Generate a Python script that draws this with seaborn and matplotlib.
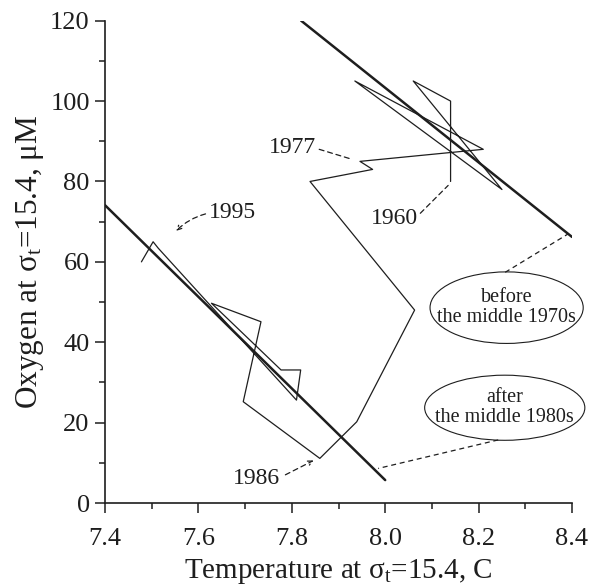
import matplotlib
matplotlib.use("Agg")
import matplotlib.pyplot as plt
import numpy as np
import pandas as pd
import seaborn as sns
from matplotlib.patches import Ellipse

# ---- data ----
temp = [8.14, 8.14, 8.06, 8.25, 7.935, 8.21, 7.946, 7.973, 7.839, 8.063,
        7.939, 7.86, 7.696, 7.734, 7.628, 7.777, 7.819, 7.81, 7.514, 7.503, 7.478]
oxygen = [80, 100, 105, 78, 105, 88, 85, 83, 80, 48,
          20.2, 11.1, 25.2, 45.1, 49.7, 33.1, 33.1, 25.6, 63.4, 65, 60]
fit_before_t = [7.82, 8.40]
fit_before_o = [120, 66.2]
fit_after_t = [7.40, 8.00]
fit_after_o = [74.1, 5.7]
xticks = [7.4, 7.6, 7.8, 8.0, 8.2, 8.4]
xticklabels = ["7.4", "7.6", "7.8", "8.0", "8.2", "8.4"]
yticks = [0, 20, 40, 60, 80, 100, 120]
year_labels = ["1977", "1960", "1986", "1995"]
ellipse_labels = ["before\nthe middle 1970s", "after\nthe middle 1980s"]

sns.set_style("ticks")
plt.rcParams["font.family"] = ["Liberation Serif", "DejaVu Serif"]
plt.rcParams["mathtext.fontset"] = "custom"
plt.rcParams["mathtext.rm"] = "Liberation Serif"
plt.rcParams["mathtext.it"] = "Liberation Serif:italic"

ink = "#1e1e1e"
fig = plt.figure(figsize=(5.91, 5.88), dpi=100)
ax = fig.add_axes([105 / 591, 85 / 588, 467 / 591, 482.3 / 588])

traj = pd.DataFrame({"t": temp, "o": oxygen})
sns.lineplot(data=traj, x="t", y="o", sort=False, estimator=None, ax=ax,
             color=ink, lw=0.9)
fb = pd.DataFrame({"t": fit_before_t, "o": fit_before_o})
fa = pd.DataFrame({"t": fit_after_t, "o": fit_after_o})
sns.lineplot(data=fb, x="t", y="o", sort=False, estimator=None, ax=ax, color=ink, lw=1.8)
sns.lineplot(data=fa, x="t", y="o", sort=False, estimator=None, ax=ax, color=ink, lw=1.8)

ax.set_xlim(7.4, 8.4)
ax.set_ylim(0, 120)
ax.set_xticks(xticks)
ax.set_xticklabels(xticklabels)
ax.set_xticks(np.arange(7.5, 8.4, 0.2), minor=True)
ax.set_yticks(yticks)
ax.set_yticks(np.arange(10, 120, 20), minor=True)
ax.tick_params(which="major", direction="out", length=7, width=1.1, colors=ink,
               labelsize=19)
ax.tick_params(axis="x", which="major", pad=11)
ax.tick_params(axis="y", which="major", pad=4)
ax.tick_params(which="minor", direction="out", length=4, width=1.1, colors=ink)
sns.despine(ax=ax)
for s in ["left", "bottom"]:
    ax.spines[s].set_linewidth(1.2)
    ax.spines[s].set_color(ink)

ax.set_xlabel(r"Temperature at $\mathregular{\sigma_t}$=15.4, C", fontsize=21, color=ink, labelpad=5)
ax.set_ylabel(r"Oxygen at $\mathregular{\sigma_t}$=15.4, $\mathregular{\mu}$M", fontsize=22.5, color=ink, labelpad=3)

# year annotations
dash = dict(arrowstyle="-", linestyle=(0, (4, 3)), color=ink, lw=0.9)
dash_arrow = dict(arrowstyle="->", linestyle=(0, (4, 3)), color=ink, lw=0.9, mutation_scale=8)
ax.text(7.801, 88.5, year_labels[0], fontsize=17, ha="center", va="center", color=ink)
ax.annotate("", xy=(7.935, 85.3), xytext=(7.853, 88.2), arrowprops=dash)
ax.text(8.019, 70.9, year_labels[1], fontsize=17, ha="center", va="center", color=ink)
ax.annotate("", xy=(8.139, 79.5), xytext=(8.071, 71.6), arrowprops=dash)
ax.text(7.725, 6.2, year_labels[2], fontsize=17, ha="center", va="center", color=ink)
ax.annotate("", xy=(7.852, 10.9), xytext=(7.781, 6.7), arrowprops=dash_arrow)
ax.text(7.673, 72.4, year_labels[3], fontsize=17, ha="center", va="center", color=ink)
ax.annotate("", xy=(7.548, 67.2), xytext=(7.621, 72.1),
            arrowprops=dict(dash_arrow, connectionstyle="arc3,rad=0.15"))

# ellipses with labels
e1 = Ellipse((8.260, 48.6), 0.328, 17.8, fill=False, ec=ink, lw=0.8, clip_on=False)
e2 = Ellipse((8.256, 23.7), 0.343, 16.2, fill=False, ec=ink, lw=0.8, clip_on=False)
ax.add_patch(e1)
ax.add_patch(e2)
ax.text(8.260, 48.6, ellipse_labels[0], fontsize=14.5, ha="center", va="center",
        color=ink, linespacing=1.1, clip_on=False)
ax.text(8.256, 23.7, ellipse_labels[1], fontsize=14.5, ha="center", va="center",
        color=ink, linespacing=1.1, clip_on=False)
ax.plot([8.257, 8.391], [57.4, 66.9], ls=(0, (4, 3)), color=ink, lw=0.9, clip_on=False)
ax.plot([8.242, 7.985], [15.7, 8.6], ls=(0, (4, 3)), color=ink, lw=0.9, clip_on=False)

fig.savefig("out.png", dpi=100)
